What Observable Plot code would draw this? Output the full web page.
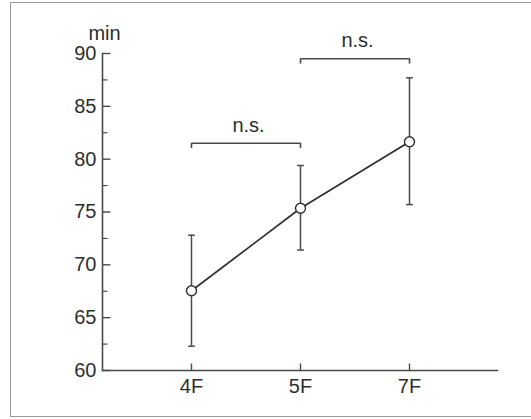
<!DOCTYPE html>
<html>
<head>
<meta charset="utf-8">
<script src="https://cdn.jsdelivr.net/npm/d3@7"></script>
<script src="https://cdn.jsdelivr.net/npm/@observablehq/plot@0.6"></script>
<style>
  html, body { margin: 0; padding: 0; background: #fff; overflow: hidden; }
  #wrap { position: relative; width: 531px; height: 419px; overflow: hidden; }
  #border { position: absolute; left: 10px; top: 2px; width: 600px; height: 413px; border: 1.8px solid #9a9a9a; }
  #chart { position: absolute; left: 0; top: 0; }
</style>
</head>
<body>
<div id="wrap"><div id="border"></div><div id="chart"></div></div>
<script>
// Data
const categories = ["4F", "5F", "7F"];
const means = [67.55, 75.35, 81.65];
const lower = [62.3, 71.4, 75.7];
const upper = [72.8, 79.4, 87.7];
const yTickValues = [60, 65, 70, 75, 80, 85, 90];
const yMinorValues = [62.5, 67.5, 72.5, 77.5, 82.5, 87.5];
const bracketFrom = ["4F", "5F"];
const bracketTo = ["5F", "7F"];
const bracketLevel = [81.5, 89.5];
const bracketArmEnd = [81.0, 89.0];
const bracketLabel = ["n.s.", "n.s."];
const yUnit = "min";

const rows = categories.map((c, i) => ({cat: c, mean: means[i], lo: lower[i], hi: upper[i]}));
const brackets = bracketFrom.map((f, i) => ({from: f, to: bracketTo[i], y: bracketLevel[i], yEnd: bracketArmEnd[i], label: bracketLabel[i]}));
const arms = brackets.flatMap(b => [{x: b.from, y1: b.y, y2: b.yEnd}, {x: b.to, y1: b.y, y2: b.yEnd}]);

const ink = "#2e2e2e";
const font = "'Liberation Sans', Arial, Helvetica, sans-serif";

// custom symbols
const hCap = {draw(ctx, size) { const w = Math.sqrt(size) / 2; ctx.moveTo(-w, 0); ctx.lineTo(w, 0); }};
const hTickMajor = {draw(ctx) { ctx.moveTo(0, 0); ctx.lineTo(8, 0); }};
const hTickMinor = {draw(ctx) { ctx.moveTo(0, 0); ctx.lineTo(5, 0); }};
const vTick = {draw(ctx) { ctx.moveTo(0, 0); ctx.lineTo(0, -7); }};

const plot = Plot.plot({
  width: 531,
  height: 419,
  marginLeft: 102,
  marginRight: 34,
  marginTop: 53,
  marginBottom: 49,
  style: {fontFamily: font, fontSize: "20px", color: ink, background: "transparent"},
  x: {type: "point", domain: categories, padding: 0.8, label: null},
  y: {domain: [60, 90], label: null},
  marks: [
    Plot.axisY({ticks: yTickValues, tickSize: 0, tickPadding: 6, fontSize: 20, label: null, fill: ink}),
    Plot.axisX({tickSize: 0, tickPadding: 8, fontSize: 20, label: null, fill: ink}),
    Plot.frame({anchor: "left", stroke: "#4a4a4a", strokeWidth: 1.6}),
    Plot.frame({anchor: "bottom", stroke: "#4a4a4a", strokeWidth: 1.6}),
    Plot.dot(yTickValues, {y: d => d, frameAnchor: "left", symbol: hTickMajor, stroke: "#4a4a4a", strokeWidth: 1.4, fill: "none"}),
    Plot.dot(yMinorValues, {y: d => d, frameAnchor: "left", symbol: hTickMinor, stroke: "#4a4a4a", strokeWidth: 1.2, fill: "none"}),
    Plot.dot(categories, {x: d => d, frameAnchor: "bottom", symbol: vTick, stroke: "#4a4a4a", strokeWidth: 1.4, fill: "none"}),
    Plot.text([yUnit], {frameAnchor: "top-left", dx: 2, dy: -14, lineAnchor: "bottom", textAnchor: "middle", fontSize: 20, fill: ink}),
    // error bars
    Plot.ruleX(rows, {x: "cat", y1: "lo", y2: "hi", stroke: "#4a4a4a", strokeWidth: 1.5}),
    Plot.dot(rows, {x: "cat", y: "lo", symbol: hCap, r: 3.8, stroke: "#4a4a4a", strokeWidth: 1.5, fill: "none"}),
    Plot.dot(rows, {x: "cat", y: "hi", symbol: hCap, r: 3.8, stroke: "#4a4a4a", strokeWidth: 1.5, fill: "none"}),
    // brackets
    Plot.link(brackets, {x1: "from", x2: "to", y1: "y", y2: "y", stroke: "#4a4a4a", strokeWidth: 1.6}),
    Plot.ruleX(arms, {x: "x", y1: "y1", y2: "y2", stroke: "#4a4a4a", strokeWidth: 1.6}),
    Plot.text(brackets, {x: d => d.from, y: "y", dx: 57, dy: -18, text: "label", fontSize: 20, fill: ink}),
    // line + points
    Plot.line(rows, {x: "cat", y: "mean", stroke: "#2e2e2e", strokeWidth: 1.7}),
    Plot.dot(rows, {x: "cat", y: "mean", r: 5, fill: "white", stroke: "#2e2e2e", strokeWidth: 1.4})
  ]
});
document.getElementById("chart").appendChild(plot);
</script>
</body>
</html>
